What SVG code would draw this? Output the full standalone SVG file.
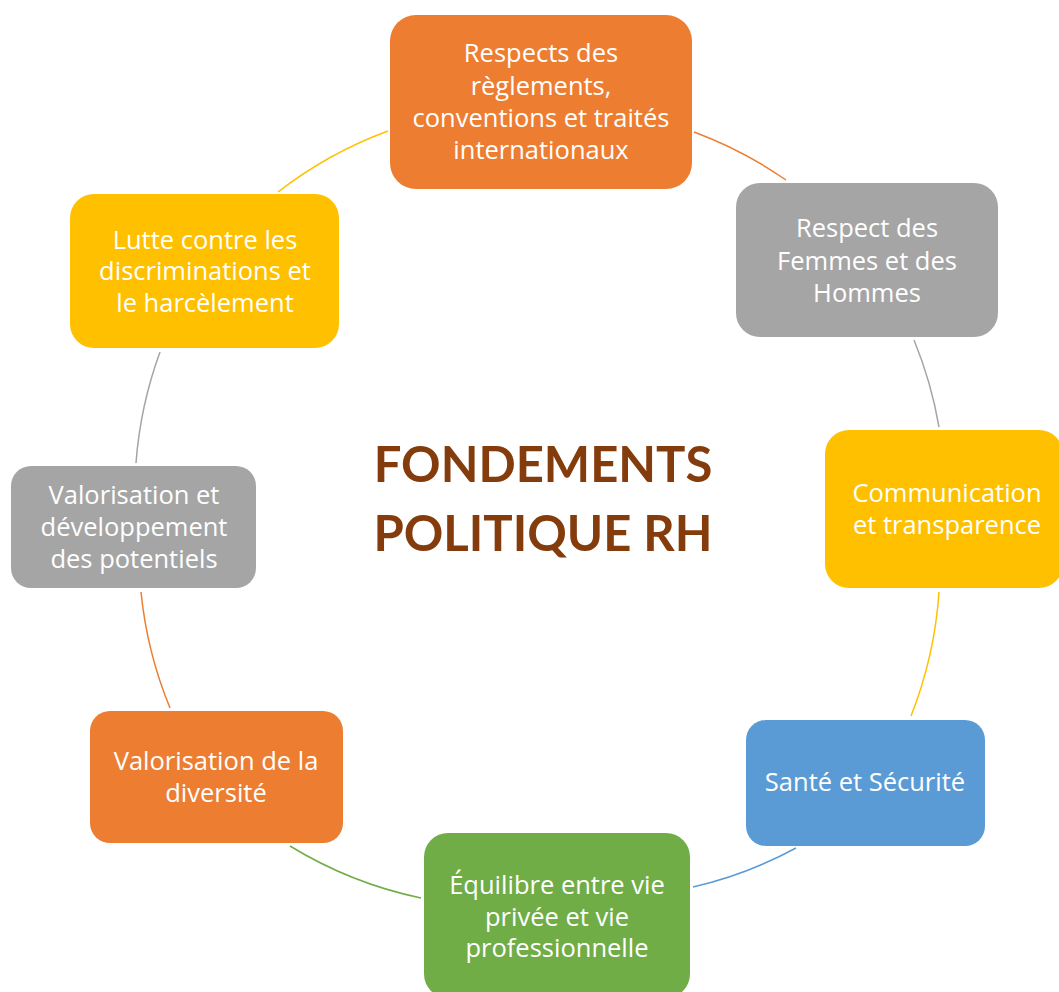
<svg xmlns="http://www.w3.org/2000/svg" width="1059" height="992" viewBox="0 0 1059 992">
<style>
.n text{font-family:"Open Sans","Noto Sans","Liberation Sans",sans-serif;font-size:25.5px;fill:#fff;text-anchor:middle}
.c path{fill:none;stroke-width:1.5}
.title{font-family:Lato,"Liberation Sans",sans-serif;font-weight:bold;font-size:49px;fill:#843C0C;text-anchor:middle}
</style>
<rect width="1059" height="992" fill="#fff"/>
<g id="connectors" class="c">
<path d="M694 132 A413 413 0 0 1 786 180" stroke="#ED7D31"/>
<path d="M914 340 A413 413 0 0 1 939 427" stroke="#A5A5A5"/>
<path d="M939 592 A413 413 0 0 1 911 716" stroke="#FFC000"/>
<path d="M796 848 A413 413 0 0 1 693 887" stroke="#5B9BD5"/>
<path d="M421 898 A413 413 0 0 1 290 846" stroke="#70AD47"/>
<path d="M170 708 A413 413 0 0 1 141 592" stroke="#ED7D31"/>
<path d="M136 463 A413 413 0 0 1 160 352" stroke="#A5A5A5"/>
<path d="M278 192 A413 413 0 0 1 388 131" stroke="#FFC000"/>
</g>
<g id="center"><text class="title" x="543" y="482">FONDEMENTS</text><text class="title" x="543" y="551">POLITIQUE RH</text></g>
<g id="n1" class="n"><rect x="390" y="15" width="302" height="174" rx="26" fill="#ED7D31"/>
<text x="541" y="62">Respects des</text><text x="541" y="95">règlements,</text><text x="541" y="127">conventions et traités</text><text x="541" y="159">internationaux</text></g>
<g id="n2" class="n"><rect x="736" y="183" width="262" height="154" rx="24" fill="#A5A5A5"/>
<text x="867" y="237">Respect des</text><text x="867" y="270">Femmes et des</text><text x="867" y="302">Hommes</text></g>
<g id="n3" class="n"><rect x="825" y="430" width="238" height="158" rx="24" fill="#FFC000"/>
<text x="947" y="502">Communication</text><text x="947" y="534">et transparence</text></g>
<g id="n4" class="n"><rect x="746" y="720" width="239" height="126" rx="20" fill="#5B9BD5"/>
<text x="865" y="791">Santé et Sécurité</text></g>
<g id="n5" class="n"><rect x="424" y="833" width="266" height="165" rx="24" fill="#70AD47"/>
<text x="557" y="894">Équilibre entre vie</text><text x="557" y="926">privée et vie</text><text x="557" y="957">professionnelle</text></g>
<g id="n6" class="n"><rect x="90" y="711" width="253" height="132" rx="20" fill="#ED7D31"/>
<text x="216" y="770">Valorisation de la</text><text x="216" y="802">diversité</text></g>
<g id="n7" class="n"><rect x="11" y="466" width="245" height="122" rx="20" fill="#A5A5A5"/>
<text x="134" y="504">Valorisation et</text><text x="134" y="536">développement</text><text x="134" y="568">des potentiels</text></g>
<g id="n8" class="n"><rect x="70" y="194" width="269" height="154" rx="24" fill="#FFC000"/>
<text x="205" y="249">Lutte contre les</text><text x="205" y="280">discriminations et</text><text x="205" y="312">le harcèlement</text></g>
</svg>
